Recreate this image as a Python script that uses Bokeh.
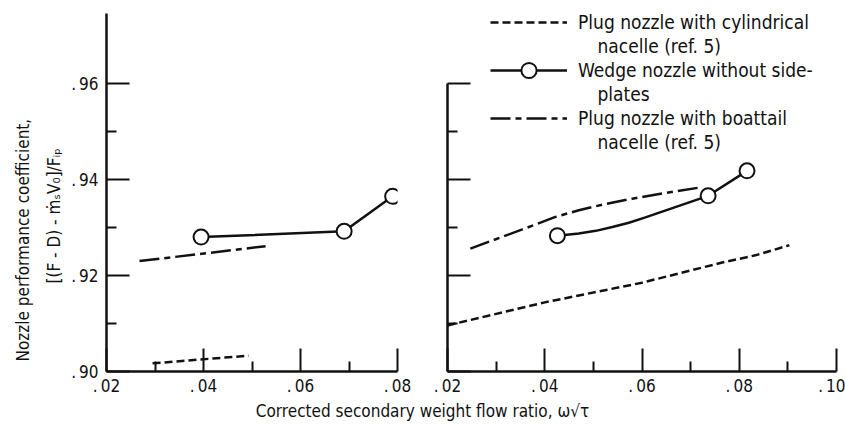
from bokeh.plotting import figure
from bokeh.models import (FixedTicker, CustomJSTickFormatter, Legend, LegendItem,
                          Div, Label, Range1d, Title)
from bokeh.layouts import row, column
from bokeh.embed import file_html
from bokeh.resources import INLINE

FONT = "DejaVu Sans Condensed, DejaVu Sans, sans-serif"
INK = "#111111"

# ---- left panel data -------------------------------------------------------
left_cyl_x = [0.0295, 0.0493]
left_cyl_y = [0.9017, 0.9033]
left_boat_x = [0.0268, 0.0528]
left_boat_y = [0.9230, 0.9261]
left_wedge_x = [0.0395, 0.0690, 0.0790]
left_wedge_y = [0.9280, 0.9292, 0.9365]

# ---- right panel data ------------------------------------------------------
right_cyl_x = [0.0200, 0.0400, 0.0600, 0.0765, 0.0833, 0.0903]
right_cyl_y = [0.9096, 0.9144, 0.9185, 0.9227, 0.9242, 0.9263]
right_boat_x = [0.0247, 0.0354, 0.0422, 0.0470, 0.0525, 0.0580, 0.0642, 0.0717]
right_boat_y = [0.9256, 0.9296, 0.9322, 0.9336, 0.9349, 0.9360, 0.9371, 0.9383]
right_wedge_x = [0.0426, 0.0736, 0.0816]
right_wedge_y = [0.9283, 0.9366, 0.9418]
right_wedge_fair_x = [0.0426, 0.0470, 0.0505, 0.0539, 0.0573, 0.0607, 0.0676, 0.0736, 0.0816]
right_wedge_fair_y = [0.9283, 0.92875, 0.9293, 0.9301, 0.9310, 0.9321, 0.9345, 0.9366, 0.9418]

# ---- ticks -----------------------------------------------------------------
left_x_major = [0.02, 0.04, 0.06, 0.08]
left_x_minor = [0.03, 0.05, 0.07]
right_x_major = [0.02, 0.04, 0.06, 0.08, 0.10]
right_x_minor = [0.03, 0.05, 0.07, 0.09]
y_major = [0.90, 0.92, 0.94, 0.96]
y_minor = [0.91, 0.93, 0.95]
left_y_extent = (0.90, 0.9745)
right_y_extent = (0.90, 0.96)

# legend: first line goes with the key, second line is indented beneath it
series_first = ["Plug nozzle with cylindrical",
                "Wedge nozzle without side-",
                "Plug nozzle with boattail"]
series_second = ["nacelle (ref. 5)", "plates", "nacelle (ref. 5)"]
y_label_lines = ["Nozzle performance coefficient,",
                 "[(F - D) - \u1e41\u209bV\u2080]/F\u1d62\u209a"]
x_label = "Corrected secondary weight flow ratio, \u03c9\u221a\u03c4"

DASH_CYL = "8 4"
DASH_BOAT = "20 5 6 5"
LW = 2.5
FS = "17px"
FS_LEG = "19px"
PX_PER_Y = 4800.0
FRAME_H = 371
Y_TOP = 0.90 + FRAME_H / PX_PER_Y


def dot_fmt():
    return CustomJSTickFormatter(code="""
        const v = Math.round(tick * 100);
        return '.\u2009' + String(v).padStart(2, '0');
    """)


def style(p, xmaj, xmin, ymaj, ymin, ylabels=True):
    p.xgrid.visible = False
    p.ygrid.visible = False
    p.outline_line_color = None
    p.background_fill_color = "white"
    p.border_fill_color = "white"
    for ax in (p.xaxis[0], p.yaxis[0]):
        ax.axis_line_width = 2.5
        ax.axis_line_color = INK
        ax.major_tick_line_color = INK
        ax.minor_tick_line_color = INK
        ax.major_tick_line_width = 2
        ax.minor_tick_line_width = 2
        ax.major_tick_out = 0
        ax.minor_tick_out = 0
        ax.major_tick_in = 23
        ax.minor_tick_in = 10
        ax.major_label_text_font = FONT
        ax.major_label_text_font_size = FS
        ax.major_label_text_color = INK
    p.xaxis[0].ticker = FixedTicker(ticks=xmaj, minor_ticks=xmin)
    p.yaxis[0].ticker = FixedTicker(ticks=ymaj, minor_ticks=ymin)
    p.xaxis[0].formatter = dot_fmt()
    p.xaxis[0].major_label_standoff = 4
    if ylabels:
        p.yaxis[0].formatter = dot_fmt()
        p.yaxis[0].major_label_standoff = 8
    else:
        p.yaxis[0].formatter = CustomJSTickFormatter(code="return '';")
        p.yaxis[0].major_label_standoff = 0


# ---- left panel ------------------------------------------------------------
p1 = figure(frame_width=291, frame_height=FRAME_H,
            x_range=Range1d(0.02, 0.08), y_range=Range1d(0.90, Y_TOP),
            min_border_left=106, min_border_right=23,
            min_border_top=0, min_border_bottom=27,
            output_backend="svg", toolbar_location=None)
style(p1, left_x_major, left_x_minor, y_major, y_minor, ylabels=True)
p1.yaxis[0].bounds = left_y_extent

p1.line(left_cyl_x, left_cyl_y, line_color=INK, line_width=LW, line_dash=DASH_CYL)
p1.line(left_boat_x, left_boat_y, line_color=INK, line_width=LW, line_dash=DASH_BOAT)
p1.line(left_wedge_x, left_wedge_y, line_color=INK, line_width=LW)
p1.scatter(left_wedge_x, left_wedge_y, marker="circle", size=15,
           fill_color="white", line_color=INK, line_width=2)

# two-line y-axis title: the inner line is added first so it sits nearest the axis
for txt, off, so in ((y_label_lines[1], 88, 10), (y_label_lines[0], 10, 7)):
    p1.add_layout(Title(text=txt, align="left", offset=off, standoff=so,
                        text_font=FONT, text_font_size=FS,
                        text_font_style="normal", text_color=INK), "left")

# ---- right panel -----------------------------------------------------------
p2 = figure(frame_width=389, frame_height=FRAME_H,
            x_range=Range1d(0.02, 0.10), y_range=Range1d(0.90, Y_TOP),
            min_border_left=27, min_border_right=9,
            min_border_top=0, min_border_bottom=27,
            output_backend="svg", toolbar_location=None)
style(p2, right_x_major, right_x_minor, y_major, y_minor, ylabels=False)
p2.yaxis[0].bounds = right_y_extent

r_cyl = p2.line(right_cyl_x, right_cyl_y, line_color=INK, line_width=LW,
                line_dash=DASH_CYL)
r_boat = p2.line(right_boat_x, right_boat_y, line_color=INK, line_width=LW,
                 line_dash=DASH_BOAT)
r_wline = p2.line(right_wedge_fair_x, right_wedge_fair_y, line_color=INK,
                  line_width=LW)
r_wpts = p2.scatter(right_wedge_x, right_wedge_y, marker="circle", size=15,
                    fill_color="white", line_color=INK, line_width=2)

legend = Legend(
    items=[LegendItem(label=series_first[0], renderers=[r_cyl]),
           LegendItem(label=series_first[1], renderers=[r_wline, r_wpts]),
           LegendItem(label=series_first[2], renderers=[r_boat])],
    location=(43, 234),
    glyph_width=77, glyph_height=38, label_standoff=11,
    spacing=10, padding=0, margin=0,
    border_line_color=None, background_fill_alpha=0,
    label_text_font=FONT, label_text_font_size=FS_LEG,
    label_text_color=INK,
)
p2.add_layout(legend)

for txt, ypos in zip(series_second, (326, 278, 230)):
    p2.add_layout(Label(x=150, y=ypos, x_units="screen", y_units="screen",
                        text=txt, text_align="left", text_baseline="middle",
                        text_font=FONT, text_font_size=FS_LEG, text_color=INK))

xlab = Div(text=x_label, width=845, height=29, margin=(0, 0, 0, 0),
           styles={"text-align": "center",
                   "font-family": "'DejaVu Sans Condensed', 'DejaVu Sans', sans-serif",
                   "font-size": FS, "color": INK, "line-height": "26px"})

layout = column(row(p1, p2, spacing=0), xlab, spacing=0)

with open("out.html", "w") as f:
    f.write(file_html(layout, INLINE))
